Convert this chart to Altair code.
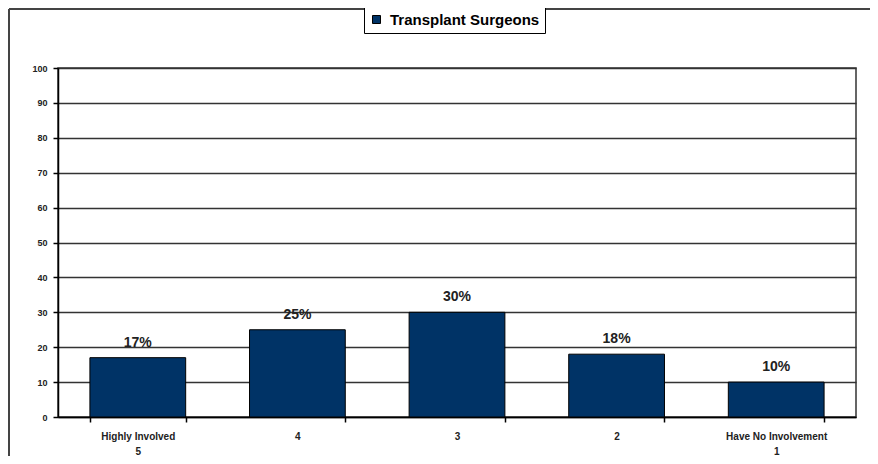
import altair as alt
import pandas as pd

categories = ["Highly Involved|5", "4", "3", "2", "Have No Involvement|1"]
values = [17, 25, 30, 18, 10]
value_labels = ["17%", "25%", "30%", "18%", "10%"]
series_name = "Transplant Surgeons"
y_ticks = [0, 10, 20, 30, 40, 50, 60, 70, 80, 90, 100]

df = pd.DataFrame({
    "category": categories,
    "value": values,
    "label": value_labels,
    "series": [series_name] * len(categories),
})

FONT = "Liberation Sans"
W, H = 798, 349

x_enc = alt.X(
    "category:N",
    sort=categories,
    title=None,
    scale=alt.Scale(paddingInner=0.4, paddingOuter=0.2),
    axis=alt.Axis(
        labelAngle=0,
        labelExpr="split(datum.label, '|')",
        tickBand="extent",
        tickSize=5,
        tickColor="black",
        tickWidth=1.5,
        domainColor="black",
        domainWidth=1.5,
        labelFont=FONT,
        labelFontSize=10,
        labelFontWeight="bold",
        labelColor="#222",
        labelPadding=9,
        labelLineHeight=15,
        grid=False,
    ),
)
y_enc = alt.Y(
    "value:Q",
    title=None,
    scale=alt.Scale(domain=[0, 100], nice=False),
    axis=alt.Axis(
        values=y_ticks,
        labelOverlap=False,
        tickSize=5,
        tickColor="black",
        tickWidth=1.5,
        domainColor="black",
        domainWidth=1.5,
        labelFont=FONT,
        labelFontSize=9,
        labelFontWeight="bold",
        labelColor="#222",
        labelPadding=6,
        grid=True,
        gridColor="#333",
        gridWidth=1.5,
    ),
)

bars = alt.Chart(df).mark_bar(stroke="black", strokeWidth=1).encode(
    x=x_enc,
    y=y_enc,
    color=alt.Color(
        "series:N",
        scale=alt.Scale(range=["#003366"]),
        legend=alt.Legend(
            title=None,
            orient="none",
            legendX=306,
            legendY=-61,
            direction="horizontal",
            symbolType="square",
            symbolSize=64,
            symbolStrokeColor="black",
            symbolStrokeWidth=1,
            labelFont=FONT,
            labelFontSize=15,
            labelFontWeight="bold",
            labelColor="black",
            labelLimit=400,
            labelOffset=6,
            strokeColor="black",
            fillColor="white",
            padding=5,
        ),
    ),
)

text = alt.Chart(df).mark_text(
    dy=-8, baseline="bottom", font=FONT, fontSize=14, fontWeight="bold", color="#222"
).encode(
    x=x_enc,
    y=y_enc,
    text="label:N",
)

frame_src = pd.DataFrame({"k": [0]})
left_border = alt.Chart(frame_src).mark_rule(color="#444", strokeWidth=2).encode(
    x=alt.value(-49), y=alt.value(-59), y2=alt.value(H + 60)
)
top_border = alt.Chart(frame_src).mark_rule(color="#444", strokeWidth=2).encode(
    x=alt.value(-49), x2=alt.value(W + 30), y=alt.value(-59)
)

chart = alt.layer(bars, text, left_border, top_border).properties(
    width=W,
    height=H,
    autosize=alt.AutoSizeParams(type="none"),
    padding={"left": 50, "top": 60, "right": 14, "bottom": 39},
).configure_view(stroke="#333", strokeWidth=1.5)

chart.save("out.html", embed_options={"renderer": "svg", "actions": False})
